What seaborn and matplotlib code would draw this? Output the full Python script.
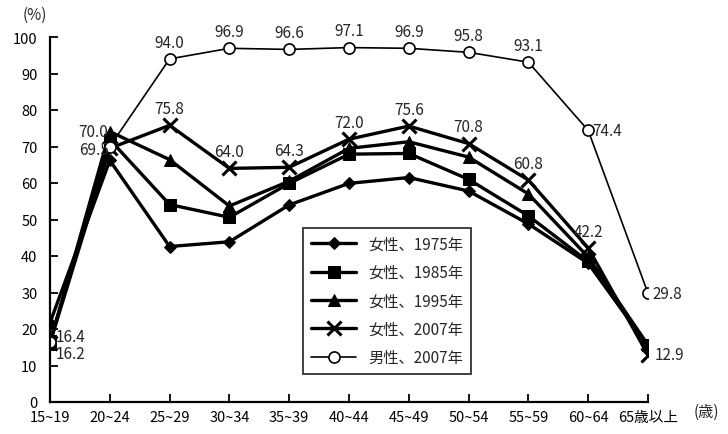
import matplotlib
matplotlib.use("Agg")
import matplotlib.pyplot as plt
import seaborn as sns

# age groups (x axis)
age_groups = ["15~19", "20~24", "25~29", "30~34", "35~39", "40~44",
              "45~49", "50~54", "55~59", "60~64", "65歳以上"]

# labour force participation rate (%)
women_1975 = [21.7, 66.2, 42.6, 43.9, 54.0, 59.9, 61.5, 57.8, 48.8, 38.0, 15.3]
women_1985 = [16.6, 71.9, 54.1, 50.6, 59.9, 67.9, 68.1, 61.0, 51.0, 38.5, 15.5]
women_1995 = [16.0, 74.1, 66.4, 53.7, 60.5, 69.5, 71.3, 67.1, 57.0, 39.7, 15.6]
women_2007 = [16.2, 69.5, 75.8, 64.0, 64.3, 72.0, 75.6, 70.8, 60.8, 42.2, 12.9]
men_2007 = [16.4, 70.0, 94.0, 96.9, 96.6, 97.1, 96.9, 95.8, 93.1, 74.4, 29.8]

series_labels = ["女性、1975年", "女性、1985年", "女性、1995年", "女性、2007年", "男性、2007年"]

sns.set_theme(style="ticks")
plt.rcParams.update({
    "font.family": ["Noto Sans CJK JP", "DejaVu Sans"],
    "axes.unicode_minus": False,
    "xtick.direction": "in",
    "ytick.direction": "in",
    "xtick.major.size": 6,
    "ytick.major.size": 6,
    "xtick.major.width": 1.3,
    "ytick.major.width": 1.3,
    "xtick.color": "black",
    "ytick.color": "black",
    "xtick.bottom": True,
    "ytick.left": True,
})

fig = plt.figure(figsize=(7.28, 4.35), dpi=100)
ax = fig.add_axes([50 / 728, 32 / 435, 598 / 728, 365 / 435])

x = list(range(len(age_groups)))
styles = [
    (women_1975, dict(marker="D", markersize=6, linewidth=2.4)),
    (women_1985, dict(marker="s", markersize=8, linewidth=2.4)),
    (women_1995, dict(marker="^", markersize=8, linewidth=2.4)),
    (women_2007, dict(marker="x", markersize=10, markeredgewidth=2.2, linewidth=2.4)),
    (men_2007, dict(marker="o", markersize=8, markerfacecolor="white",
                    markeredgewidth=1.2, linewidth=1.2)),
]
for (vals, kw), lab in zip(styles, series_labels):
    sns.lineplot(x=x, y=vals, ax=ax, label=lab, color="black",
                 markeredgecolor="black", **kw)

# value labels
fs = 11
for i, v in enumerate(men_2007):
    if 2 <= i <= 8:
        ax.annotate(f"{v:.1f}", (i, v), xytext=(0, 6), textcoords="offset points",
                    ha="center", va="bottom", fontsize=fs)
ax.annotate(f"{men_2007[9]:.1f}", (9, men_2007[9]), xytext=(3, 0), textcoords="offset points",
            ha="left", va="center", fontsize=fs)
ax.annotate(f"{men_2007[10]:.1f}", (10, men_2007[10]), xytext=(3, 0), textcoords="offset points",
            ha="left", va="center", fontsize=fs)
ax.annotate(f"{men_2007[0]:.1f}", (0, men_2007[0]), xytext=(4, 4), textcoords="offset points",
            ha="left", va="center", fontsize=fs)
ax.annotate(f"{men_2007[1]:.1f}", (1, men_2007[1]), xytext=(-1, 11), textcoords="offset points",
            ha="right", va="center", fontsize=fs)

for i, v in enumerate(women_2007):
    if 2 <= i <= 9:
        ax.annotate(f"{v:.1f}", (i, v), xytext=(0, 6), textcoords="offset points",
                    ha="center", va="bottom", fontsize=fs)
ax.annotate(f"{women_2007[10]:.1f}", (10, women_2007[10]), xytext=(5, 0), textcoords="offset points",
            ha="left", va="center", fontsize=fs)
ax.annotate(f"{women_2007[0]:.1f}", (0, women_2007[0]), xytext=(4, -8), textcoords="offset points",
            ha="left", va="center", fontsize=fs)
ax.annotate(f"{women_2007[1]:.1f}", (1, women_2007[1]), xytext=(-1, -1), textcoords="offset points",
            ha="right", va="center", fontsize=fs)

ax.set_xlim(0, len(age_groups) - 1)
ax.set_ylim(0, 100)
ax.set_xticks(x)
ax.set_xticklabels(age_groups)
ax.set_yticks(range(0, 101, 10))
ax.tick_params(axis="both", labelsize=10.5)
ax.tick_params(axis="y", pad=9)
ax.tick_params(axis="x", pad=6)
for side in ["top", "right"]:
    ax.spines[side].set_visible(False)
for side in ["left", "bottom"]:
    ax.spines[side].set_color("black")
    ax.spines[side].set_linewidth(1.6)
ax.set_xlabel("")
ax.set_ylabel("")

fig.text(35 / 728, 1 - 15 / 435, "(%)", ha="center", va="center", fontsize=11)
fig.text(706 / 728, 1 - 412 / 435, "(歳)", ha="center", va="center", fontsize=11)

leg = ax.legend(loc="lower left", bbox_to_anchor=(0.423, 0.077), fontsize=11,
                frameon=True, fancybox=False, edgecolor="black", handlelength=3,
                labelspacing=0.75, borderpad=0.5, borderaxespad=0)
leg.get_frame().set_linewidth(1.3)

fig.savefig("out.png", dpi=100)
